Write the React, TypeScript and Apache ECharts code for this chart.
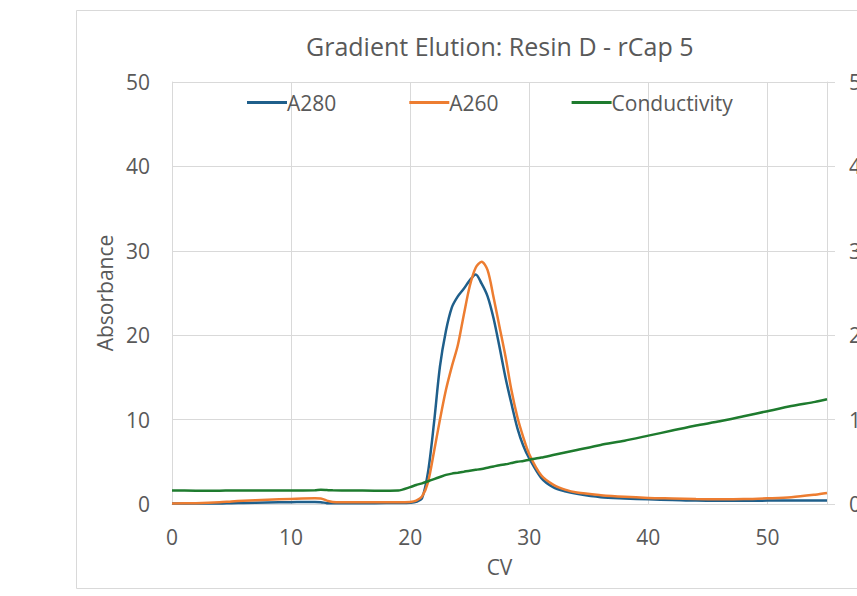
import React, { useEffect, useRef } from "react";
import * as echarts from "echarts";

const cv = [0, 2, 4, 5, 6, 8, 10, 12, 12.5, 13, 13.5, 15, 17, 19, 20, 20.5, 21, 21.5, 22, 22.5, 23, 23.5, 24, 24.5, 25, 25.5, 26, 26.5, 27, 27.5, 28, 28.5, 29, 29.5, 30, 31, 32, 33, 34, 36, 38, 40, 42, 44, 46, 48, 50, 52, 54, 55];

const a280 = [0.05, 0.05, 0.05, 0.1, 0.12, 0.18, 0.22, 0.25, 0.22, 0.1, 0.08, 0.08, 0.1, 0.12, 0.15, 0.25, 0.7, 3.8, 9.6, 16.3, 20.5, 23.3, 24.6, 25.5, 26.5, 27.2, 26.1, 24.6, 22.0, 18.6, 15.0, 11.9, 9.0, 6.9, 5.4, 3.1, 2.0, 1.5, 1.2, 0.8, 0.65, 0.55, 0.48, 0.4, 0.38, 0.38, 0.4, 0.4, 0.4, 0.4];

const a260 = [0.05, 0.1, 0.2, 0.3, 0.38, 0.5, 0.6, 0.67, 0.65, 0.4, 0.25, 0.2, 0.2, 0.2, 0.25, 0.4, 0.9, 2.6, 6.2, 10.0, 13.5, 16.3, 18.8, 22.4, 25.8, 28.0, 28.7, 27.7, 24.5, 21.0, 17.5, 13.5, 10.3, 7.9, 5.9, 3.4, 2.3, 1.7, 1.35, 1.05, 0.85, 0.72, 0.65, 0.58, 0.56, 0.58, 0.67, 0.8, 1.1, 1.3];

const conductivity = [1.6, 1.58, 1.58, 1.6, 1.6, 1.6, 1.6, 1.62, 1.68, 1.65, 1.62, 1.6, 1.58, 1.6, 2.0, 2.25, 2.45, 2.7, 2.95, 3.2, 3.45, 3.6, 3.7, 3.82, 3.95, 4.05, 4.15, 4.3, 4.45, 4.6, 4.7, 4.85, 5.0, 5.1, 5.25, 5.5, 5.8, 6.1, 6.4, 7.0, 7.5, 8.1, 8.7, 9.3, 9.8, 10.4, 11.0, 11.6, 12.1, 12.4];

const seriesNames = ["A280", "A260", "Conductivity"];
const colors = ["#1F5F8B", "#ED7D31", "#1E7B2E"];
const titleText = "Gradient Elution: Resin D - rCap 5";

const FONT = "Open Sans";
const TXT = "#595959";
const GRID = "#D9D9D9";
const FS = 21;

export default function App() {
  const ref = useRef<HTMLDivElement>(null);
  useEffect(() => {
    if (!ref.current) return;
    const chart = echarts.init(ref.current, null, { renderer: "svg" });
    const pairs = (ys: number[]) => cv.map((x, i) => [x, ys[i]]);
    chart.setOption({
      animation: false,
      textStyle: { fontFamily: FONT },
      title: {
        text: titleText,
        left: 301,
        top: 28,
        textStyle: { fontFamily: FONT, fontSize: 25, fontWeight: "normal", color: TXT },
      },
      legend: {
        data: seriesNames,
        top: 87,
        left: 242,
        itemGap: 73,
        itemWidth: 40,
        itemHeight: 3,
        icon: "rect",
        textStyle: { fontFamily: FONT, fontSize: FS, color: TXT, padding: [0, 0, 0, -5] },
      },
      graphic: [
        {
          type: "rect",
          shape: { x: 76.5, y: 10.5, width: 900, height: 578 },
          style: { fill: "none", stroke: GRID, lineWidth: 1 },
          silent: true,
          z: -10,
        },
      ],
      grid: { left: 172, top: 82, right: 30, bottom: 92, containLabel: false, outerBoundsMode: "none" },
      xAxis: {
        type: "value",
        min: 0,
        max: 55,
        interval: 10,
        name: "CV",
        nameLocation: "middle",
        nameGap: 52,
        nameTextStyle: { fontFamily: FONT, fontSize: FS, color: TXT },
        axisLine: { show: true, lineStyle: { color: GRID } },
        axisTick: { show: false },
        axisLabel: { fontFamily: FONT, fontSize: FS, color: TXT, margin: 22, showMaxLabel: false },
        splitLine: { show: true, lineStyle: { color: GRID } },
      },
      yAxis: [
        {
          type: "value",
          min: 0,
          max: 50,
          interval: 10,
          name: "Absorbance",
          nameLocation: "middle",
          nameGap: 55,
          nameTextStyle: { fontFamily: FONT, fontSize: FS, color: TXT },
          axisLine: { show: true, lineStyle: { color: GRID } },
          axisTick: { show: false },
          axisLabel: { fontFamily: FONT, fontSize: FS, color: TXT, margin: 22 },
          splitLine: { show: true, lineStyle: { color: GRID } },
        },
        {
          type: "value",
          min: 0,
          max: 50,
          interval: 10,
          position: "right",
          axisLine: { show: true, lineStyle: { color: GRID } },
          axisTick: { show: true, length: 8, lineStyle: { color: GRID } },
          axisLabel: { fontFamily: FONT, fontSize: FS, color: TXT, margin: 22 },
          splitLine: { show: false },
        },
      ],
      series: [
        {
          name: seriesNames[0],
          type: "line",
          data: pairs(a280),
          yAxisIndex: 0,
          showSymbol: false,
          smooth: 0.3,
          color: colors[0],
          lineStyle: { width: 2.5, color: colors[0] },
          z: 3,
        },
        {
          name: seriesNames[1],
          type: "line",
          data: pairs(a260),
          yAxisIndex: 0,
          showSymbol: false,
          smooth: 0.3,
          color: colors[1],
          lineStyle: { width: 2.5, color: colors[1] },
          z: 4,
        },
        {
          name: seriesNames[2],
          type: "line",
          data: pairs(conductivity),
          yAxisIndex: 1,
          showSymbol: false,
          smooth: 0.2,
          color: colors[2],
          lineStyle: { width: 2.5, color: colors[2] },
          z: 5,
        },
      ],
    });
    return () => chart.dispose();
  }, []);
  return <div ref={ref} style={{ width: 857, height: 596, position: "absolute", left: 0, top: 0 }} />;
}
